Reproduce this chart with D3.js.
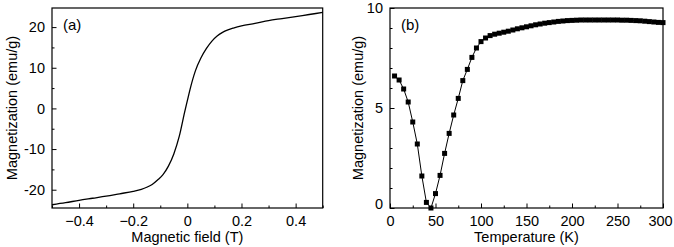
<!DOCTYPE html>
<html><head><meta charset="utf-8">
<script src="https://cdn.jsdelivr.net/npm/d3@7"></script>
<style>
body{margin:0;background:#fff;}
text{font-family:"Liberation Sans",Arial,sans-serif;fill:#000;}
</style></head>
<body><svg id="c" width="674" height="247"></svg>
<script>
// Panel (a): M vs H
const fieldT = [-0.5,-0.45,-0.4,-0.35,-0.3,-0.25,-0.2,-0.17,-0.15,-0.13,-0.11,-0.09,-0.07,-0.05,-0.03,-0.01,0,0.01,0.03,0.05,0.07,0.09,0.11,0.13,0.15,0.17,0.2,0.25,0.3,0.35,0.4,0.45,0.5];
const magA = [-23.7,-23.2,-22.6,-22.1,-21.6,-21.0,-20.4,-19.9,-19.4,-18.7,-17.6,-16.3,-14.2,-11.2,-6.9,-0.9,1.9,4.7,9.3,12.4,14.7,16.5,17.8,18.7,19.3,19.75,20.3,20.9,21.6,22.1,22.6,23.1,23.6];
// Panel (b): M vs T
const tempK = [5,10,15,20,25,30,35,40,45,50,55,60,65,70,75,80,85,90,95,100,105,110,115,120,125,130,135,140,145,150,155,160,165,170,175,180,185,190,195,200,205,210,215,220,225,230,235,240,245,250,255,260,265,270,275,280,285,290,295,300];
const magB = [6.6,6.4,5.95,5.3,4.3,3.2,1.6,0.28,0.0,0.72,1.63,2.73,3.73,4.65,5.48,6.37,6.93,7.53,8.0,8.32,8.5,8.62,8.69,8.74,8.79,8.84,8.9,8.96,9.01,9.06,9.11,9.16,9.2,9.24,9.27,9.3,9.33,9.35,9.37,9.38,9.39,9.4,9.4,9.4,9.4,9.4,9.4,9.4,9.4,9.4,9.39,9.39,9.38,9.37,9.36,9.34,9.32,9.3,9.28,9.27];
const ticksAx = [-0.4,-0.2,0,0.2,0.4];
const ticksAy = [-20,-10,0,10,20];
const ticksBx = [0,50,100,150,200,250,300];
const ticksBy = [0,5,10];

const svg = d3.select("#c");
const FS = 14.5;

function panel(o){
  const g = svg.append("g");
  const x = d3.scaleLinear().domain(o.xd).range([o.x0,o.x1]);
  const y = d3.scaleLinear().domain(o.yd).range([o.y1,o.y0]);
  g.append("g").attr("transform",`translate(0,${o.y1})`)
    .call(d3.axisBottom(x).tickValues(o.xminor).tickSize(-2.5).tickFormat(""))
    .call(a=>a.select(".domain").remove());
  g.append("g").attr("transform",`translate(${o.x0},0)`)
    .call(d3.axisLeft(y).tickValues(o.yminor).tickSize(-2.5).tickFormat(""))
    .call(a=>a.select(".domain").remove());
  const ax = g.append("g").attr("transform",`translate(0,${o.y1})`)
    .call(d3.axisBottom(x).tickValues(o.xt).tickSize(-4.5).tickPadding(8).tickFormat(o.xf));
  ax.select(".domain").remove();
  ax.selectAll("text").attr("font-size",FS).attr("font-family","Liberation Sans, Arial").attr("dy","0.71em").attr("y",8);
  if(o.lastShift) ax.selectAll("text").filter(d=>d===o.xd[1]).attr("dx",o.lastShift);
  const ay = g.append("g").attr("transform",`translate(${o.x0},0)`)
    .call(d3.axisLeft(y).tickValues(o.yt).tickSize(-4.5).tickPadding(7).tickFormat(o.yf));
  ay.select(".domain").remove();
  ay.selectAll("text").attr("font-size",FS).attr("font-family","Liberation Sans, Arial").attr("x",-7);
  if(o.lowFix) ay.selectAll("text").filter(d=>d===o.yd[0]).attr("dy","0.05em");
  g.selectAll(".tick line").attr("stroke","#000").attr("stroke-width",1);
  g.append("rect").attr("x",o.x0).attr("y",o.y0).attr("width",o.x1-o.x0).attr("height",o.y1-o.y0)
    .attr("fill","none").attr("stroke","#000").attr("stroke-width",1.2);
  g.append("text").attr("x",(o.x0+o.x1)/2).attr("y",o.y1+34).attr("text-anchor","middle")
    .attr("font-size",14.5).text(o.xtitle);
  g.append("text").attr("transform",`translate(${o.ytx},${(o.y0+o.y1)/2}) rotate(-90)`)
    .attr("text-anchor","middle").attr("dy","0.35em").attr("font-size",14.5).text(o.ytitle);
  g.append("text").attr("x",o.x0+11).attr("y",o.y0+22).attr("font-size",15).text(o.label);
  return {g,x,y};
}

const A = panel({x0:52,x1:322.7,y0:8,y1:208,xd:[-0.5,0.5],yd:[-24.5,24.7],
  xt:ticksAx,yt:ticksAy,xminor:[-0.5,-0.3,-0.1,0.1,0.3,0.5],yminor:[-15,-5,5,15],
  xf:d=>d===0?"0":d3.format(".1f")(d),yf:d=>String(d),
  xtitle:"Magnetic field (T)",ytitle:"Magnetization (emu/g)",ytx:12,label:"(a)"});
A.g.append("path").datum(fieldT.map((h,i)=>[h,magA[i]]))
  .attr("d",d3.line().x(d=>A.x(d[0])).y(d=>A.y(d[1])).curve(d3.curveMonotoneX))
  .attr("fill","none").attr("stroke","#000").attr("stroke-width",1.3);

const B = panel({x0:390,x1:663,y0:8,y1:208,xd:[0,300],yd:[0,10],
  xt:ticksBx,yt:ticksBy,xminor:[25,75,125,175,225,275],yminor:[1,2,3,4,6,7,8,9],
  xf:d=>String(d),yf:d=>String(d),lowFix:true,lastShift:-3,
  xtitle:"Temperature (K)",ytitle:"Magnetization (emu/g)",ytx:358,label:"(b)"});
const ptsB = tempK.map((t,i)=>[t,magB[i]]);
B.g.append("path").datum(ptsB)
  .attr("d",d3.line().x(d=>B.x(d[0])).y(d=>B.y(d[1])))
  .attr("fill","none").attr("stroke","#000").attr("stroke-width",1);
B.g.selectAll("rect.pt").data(ptsB).join("rect").attr("class","pt")
  .attr("x",d=>B.x(d[0])-2.5).attr("y",d=>B.y(d[1])-2.5).attr("width",5).attr("height",5).attr("fill","#000");
</script></body></html>
